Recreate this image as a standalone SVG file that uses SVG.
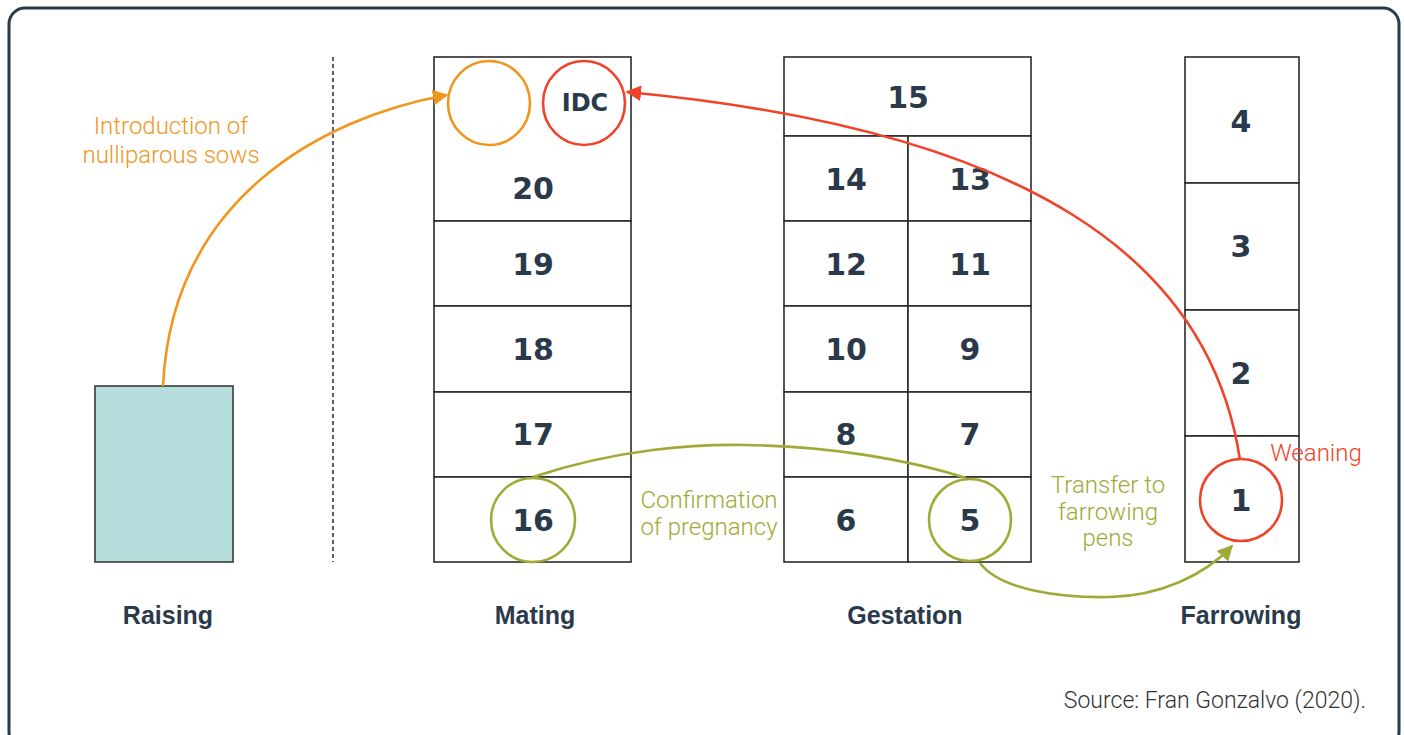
<svg xmlns="http://www.w3.org/2000/svg" width="1404" height="735" viewBox="0 0 1404 735">
  <style>
    .cell { fill: #ffffff; stroke: #2b2b2b; stroke-width: 1.6; }
    .num { font-family: "DejaVu Sans", "Liberation Sans", sans-serif; font-weight: bold; font-size: 30px; fill: #2a3a4a; text-anchor: middle; dominant-baseline: central; }
    .stage { font-family: "Liberation Sans", Arial, sans-serif; font-weight: bold; font-size: 25px; fill: #2a3a4a; text-anchor: middle; }
    .note { font-family: Roboto, "Liberation Sans", sans-serif; font-weight: 300; font-size: 24px; text-anchor: middle; }
    .orange { fill: #f0961e; }
    .red { fill: #f0442a; }
    .olive { fill: #a0aa36; }
    .link { fill: none; stroke-width: 2.6; }
  </style>
  <defs>
    <marker id="arrOrange" viewBox="0 0 10 10" refX="9" refY="5" markerWidth="6" markerHeight="6" orient="auto" markerUnits="strokeWidth">
      <path d="M0,0 L10,5 L0,10 z" fill="#f0961e"/>
    </marker>
    <marker id="arrRed" viewBox="0 0 10 10" refX="9" refY="5" markerWidth="6" markerHeight="6" orient="auto" markerUnits="strokeWidth">
      <path d="M0,0 L10,5 L0,10 z" fill="#f0442a"/>
    </marker>
    <marker id="arrOlive" viewBox="0 0 10 10" refX="9" refY="5" markerWidth="6" markerHeight="6" orient="auto" markerUnits="strokeWidth">
      <path d="M0,0 L10,5 L0,10 z" fill="#a0aa36"/>
    </marker>
  </defs>

  <!-- outer frame -->
  <rect x="9" y="8" width="1390" height="740" rx="16" fill="#ffffff" stroke="#2a3a4a" stroke-width="3"/>

  <!-- divider between raising and the sow barn -->
  <line x1="333" y1="57" x2="333" y2="562" stroke="#2b2b2b" stroke-width="1.5" stroke-dasharray="4,3"/>

  <!-- Raising -->
  <g id="raising">
    <rect x="95" y="386" width="138" height="176" fill="#b4dddb" stroke="#3a3a3a" stroke-width="1.6"/>
    <text class="stage" x="168" y="624">Raising</text>
  </g>

  <!-- Mating -->
  <g id="mating">
    <rect class="cell" x="434" y="57" width="197" height="164"/>
    <rect class="cell" x="434" y="221" width="197" height="85"/>
    <rect class="cell" x="434" y="306" width="197" height="86"/>
    <rect class="cell" x="434" y="392" width="197" height="85"/>
    <rect class="cell" x="434" y="477" width="197" height="85"/>
    <text class="num" x="533" y="188">20</text>
    <text class="num" x="533" y="264">19</text>
    <text class="num" x="533" y="349">18</text>
    <text class="num" x="533" y="434">17</text>
    <text class="num" x="533" y="520">16</text>
    <text class="stage" x="535" y="624">Mating</text>
  </g>
  <g id="gilts-in">
    <ellipse cx="489" cy="103" rx="41" ry="42" fill="none" stroke="#f0961e" stroke-width="2.6"/>
  </g>
  <g id="idc">
    <ellipse cx="584" cy="103" rx="41" ry="42" fill="none" stroke="#f0442a" stroke-width="2.6"/>
    <text class="num" x="585" y="103" style="font-size:24px">IDC</text>
  </g>
  <g id="pen16">
    <circle cx="533" cy="520" r="42" fill="none" stroke="#a0aa36" stroke-width="2.6"/>
  </g>

  <!-- Gestation -->
  <g id="gestation">
    <rect class="cell" x="784" y="57" width="247" height="79"/>
    <rect class="cell" x="784" y="136" width="124" height="85"/>
    <rect class="cell" x="908" y="136" width="123" height="85"/>
    <rect class="cell" x="784" y="221" width="124" height="85"/>
    <rect class="cell" x="908" y="221" width="123" height="85"/>
    <rect class="cell" x="784" y="306" width="124" height="86"/>
    <rect class="cell" x="908" y="306" width="123" height="86"/>
    <rect class="cell" x="784" y="392" width="124" height="85"/>
    <rect class="cell" x="908" y="392" width="123" height="85"/>
    <rect class="cell" x="784" y="477" width="124" height="85"/>
    <rect class="cell" x="908" y="477" width="123" height="85"/>
    <text class="num" x="908" y="97">15</text>
    <text class="num" x="846" y="179">14</text>
    <text class="num" x="970" y="179">13</text>
    <text class="num" x="846" y="264">12</text>
    <text class="num" x="970" y="264">11</text>
    <text class="num" x="846" y="349">10</text>
    <text class="num" x="970" y="349">9</text>
    <text class="num" x="846" y="434">8</text>
    <text class="num" x="970" y="434">7</text>
    <text class="num" x="846" y="520">6</text>
    <text class="num" x="970" y="520">5</text>
    <text class="stage" x="905" y="624">Gestation</text>
  </g>
  <g id="pen5">
    <circle cx="970" cy="520" r="41" fill="none" stroke="#a0aa36" stroke-width="2.6"/>
  </g>

  <!-- Farrowing -->
  <g id="farrowing">
    <rect class="cell" x="1185" y="57" width="114" height="126"/>
    <rect class="cell" x="1185" y="183" width="114" height="127"/>
    <rect class="cell" x="1185" y="310" width="114" height="126"/>
    <rect class="cell" x="1185" y="436" width="114" height="126"/>
    <text class="num" x="1241" y="121">4</text>
    <text class="num" x="1241" y="246">3</text>
    <text class="num" x="1241" y="373">2</text>
    <text class="num" x="1241" y="500">1</text>
    <text class="stage" x="1241" y="624">Farrowing</text>
  </g>
  <g id="pen1">
    <circle cx="1241" cy="500" r="41" fill="none" stroke="#f0442a" stroke-width="2.6"/>
  </g>

  <!-- connectors -->
  <g id="connectors">
    <path class="link" stroke="#f0961e" d="M163,386 C172,200 320,118 447,95" marker-end="url(#arrOrange)"/>
    <path class="link" stroke="#f0442a" d="M1240,460 C1210,260 1030,130 627,92" marker-end="url(#arrRed)"/>
    <path class="link" stroke="#a0aa36" d="M533,477 C620,448 700,444 745,445 C830,446 910,460 966,478"/>
    <path class="link" stroke="#a0aa36" d="M980,563 C1000,590 1060,598 1110,597 C1160,596 1205,575 1232,546" marker-end="url(#arrOlive)"/>
  </g>

  <!-- annotations -->
  <g id="labels">
    <text class="note orange" x="171" y="134">Introduction of</text>
    <text class="note orange" x="171" y="163">nulliparous sows</text>
    <text class="note olive" x="709" y="508">Confirmation</text>
    <text class="note olive" x="709" y="535">of pregnancy</text>
    <text class="note olive" x="1108" y="493">Transfer to</text>
    <text class="note olive" x="1108" y="520">farrowing</text>
    <text class="note olive" x="1108" y="546">pens</text>
    <text class="note red" x="1316" y="461">Weaning</text>
    <text x="1366" y="708" style="font-family: Roboto, 'Liberation Sans', sans-serif; font-weight: 300; font-size: 23px; fill: #333333; text-anchor: end;">Source: Fran Gonzalvo (2020).</text>
  </g>
</svg>
